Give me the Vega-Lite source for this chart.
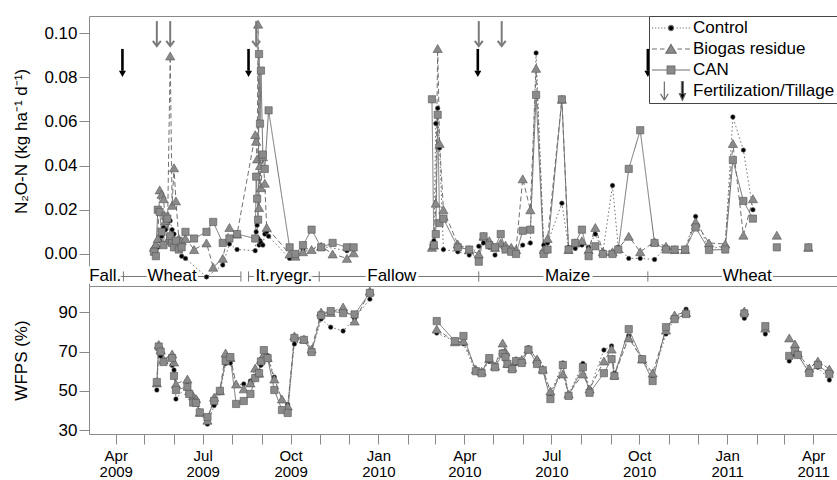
{
"$schema": "https://vega.github.io/schema/vega-lite/v6.json",
"background": "white",
"padding": {"left": 11, "top": 15, "right": 0, "bottom": 0},
"bounds": "flush",
"spacing": 0,
"config": {
  "font": "Liberation Sans",
  "view": {"stroke": "#8a8a8a", "strokeWidth": 1},
  "axis": {"grid": false, "domain": false, "tickColor": "#8a8a8a", "tickSize": 10, "tickWidth": 1, "labelFontSize": 17, "labelColor": "#000", "titleFontSize": 17, "titleFontWeight": "normal", "titleColor": "#000", "labelFont": "Liberation Sans", "titleFont": "Liberation Sans"}
},
"resolve": {"scale": {"color": "independent", "shape": "independent", "size": "independent", "strokeDash": "independent"}},
"datasets": {
  "crops": [
    {"crop": "Fall.", "start": "2009-03-04", "end": "2009-04-09", "mid": "2009-03-21"},
    {"crop": "Wheat", "start": "2009-04-09", "end": "2009-08-10", "mid": "2009-05-30"},
    {"crop": "It.ryegr.", "start": "2009-08-18", "end": "2009-10-31", "mid": "2009-09-24"},
    {"crop": "Fallow", "start": "2009-10-31", "end": "2010-04-16", "mid": "2010-01-15"},
    {"crop": "Maize", "start": "2010-04-16", "end": "2010-10-10", "mid": "2010-07-18"},
    {"crop": "Wheat", "start": "2010-10-10", "end": "2011-04-27", "mid": "2011-01-22"}
  ],
  "cuts": [
    {"date": "2009-04-09"}, {"date": "2009-08-10"}, {"date": "2009-08-18"}, {"date": "2009-10-31"}, {"date": "2010-04-16"}, {"date": "2010-10-10"}
  ],
  "arrows": [
    {"date": "2009-05-14", "kind": "fert"}, {"date": "2009-05-28", "kind": "fert"}, {"date": "2009-08-26", "kind": "fert"}, {"date": "2010-04-16", "kind": "fert"}, {"date": "2010-05-10", "kind": "fert"},
    {"date": "2009-04-08", "kind": "till"}, {"date": "2009-08-18", "kind": "till"}, {"date": "2010-04-15", "kind": "till"}, {"date": "2010-10-10", "kind": "till"}
  ],
  "n2o": [
    {"date":"2009-05-11","series":"Control","value":0.001,"period":1},
    {"date":"2009-05-13","series":"Control","value":0.000,"period":1},
    {"date":"2009-05-15","series":"Control","value":0.003,"period":1},
    {"date":"2009-05-17","series":"Control","value":0.006,"period":1},
    {"date":"2009-05-19","series":"Control","value":0.008,"period":1},
    {"date":"2009-05-21","series":"Control","value":0.012,"period":1},
    {"date":"2009-05-23","series":"Control","value":0.011,"period":1},
    {"date":"2009-05-25","series":"Control","value":0.014,"period":1},
    {"date":"2009-05-28","series":"Control","value":0.015,"period":1},
    {"date":"2009-05-30","series":"Control","value":0.011,"period":1},
    {"date":"2009-06-01","series":"Control","value":0.009,"period":1},
    {"date":"2009-06-03","series":"Control","value":0.005,"period":1},
    {"date":"2009-06-06","series":"Control","value":0.002,"period":1},
    {"date":"2009-06-09","series":"Control","value":-0.001,"period":1},
    {"date":"2009-06-13","series":"Control","value":-0.002,"period":1},
    {"date":"2009-07-05","series":"Control","value":-0.0104,"period":1},
    {"date":"2009-07-22","series":"Control","value":-0.005,"period":1},
    {"date":"2009-07-29","series":"Control","value":0.0045,"period":1},
    {"date":"2009-08-06","series":"Control","value":0.002,"period":1},
    {"date":"2009-08-25","series":"Control","value":0.0015,"period":1},
    {"date":"2009-08-26","series":"Control","value":0.010,"period":1},
    {"date":"2009-08-27","series":"Control","value":0.013,"period":1},
    {"date":"2009-08-28","series":"Control","value":0.007,"period":1},
    {"date":"2009-08-29","series":"Control","value":0.004,"period":1},
    {"date":"2009-08-30","series":"Control","value":0.006,"period":1},
    {"date":"2009-08-31","series":"Control","value":0.005,"period":1},
    {"date":"2009-09-02","series":"Control","value":0.004,"period":1},
    {"date":"2009-09-04","series":"Control","value":0.009,"period":1},
    {"date":"2009-09-06","series":"Control","value":0.010,"period":1},
    {"date":"2009-09-08","series":"Control","value":0.008,"period":1},
    {"date":"2009-09-30","series":"Control","value":-0.002,"period":1},
    {"date":"2009-10-14","series":"Control","value":0.002,"period":1},
    {"date":"2009-11-02","series":"Control","value":0.0035,"period":1},
    {"date":"2009-11-29","series":"Control","value":0.0015,"period":1},
    {"date":"2010-02-26","series":"Control","value":0.004,"period":2},
    {"date":"2010-02-28","series":"Control","value":0.006,"period":2},
    {"date":"2010-03-02","series":"Control","value":0.059,"period":2},
    {"date":"2010-03-04","series":"Control","value":0.066,"period":2},
    {"date":"2010-03-06","series":"Control","value":0.048,"period":2},
    {"date":"2010-03-10","series":"Control","value":0.002,"period":2},
    {"date":"2010-03-25","series":"Control","value":0.001,"period":2},
    {"date":"2010-04-06","series":"Control","value":-0.0005,"period":2},
    {"date":"2010-04-16","series":"Control","value":0.0035,"period":2},
    {"date":"2010-04-21","series":"Control","value":0.005,"period":2},
    {"date":"2010-04-27","series":"Control","value":0.003,"period":2},
    {"date":"2010-05-03","series":"Control","value":-0.0005,"period":2},
    {"date":"2010-05-09","series":"Control","value":0.004,"period":2},
    {"date":"2010-05-14","series":"Control","value":0.002,"period":2},
    {"date":"2010-05-20","series":"Control","value":0.001,"period":2},
    {"date":"2010-05-25","series":"Control","value":0.001,"period":2},
    {"date":"2010-06-01","series":"Control","value":0.004,"period":2},
    {"date":"2010-06-09","series":"Control","value":0.005,"period":2},
    {"date":"2010-06-15","series":"Control","value":0.091,"period":2},
    {"date":"2010-06-23","series":"Control","value":0.004,"period":2},
    {"date":"2010-06-27","series":"Control","value":0.005,"period":2},
    {"date":"2010-07-12","series":"Control","value":0.023,"period":2},
    {"date":"2010-07-19","series":"Control","value":0.003,"period":2},
    {"date":"2010-07-26","series":"Control","value":0.0025,"period":2},
    {"date":"2010-08-02","series":"Control","value":0.004,"period":2},
    {"date":"2010-08-09","series":"Control","value":0.003,"period":2},
    {"date":"2010-08-16","series":"Control","value":0.009,"period":2},
    {"date":"2010-08-24","series":"Control","value":0.001,"period":2},
    {"date":"2010-09-03","series":"Control","value":0.031,"period":2},
    {"date":"2010-09-09","series":"Control","value":0.003,"period":2},
    {"date":"2010-09-20","series":"Control","value":-0.002,"period":2},
    {"date":"2010-10-02","series":"Control","value":-0.002,"period":2},
    {"date":"2010-10-17","series":"Control","value":-0.0025,"period":2},
    {"date":"2010-10-29","series":"Control","value":0.003,"period":2},
    {"date":"2010-11-07","series":"Control","value":0.002,"period":2},
    {"date":"2010-11-18","series":"Control","value":0.002,"period":2},
    {"date":"2010-11-29","series":"Control","value":0.017,"period":2},
    {"date":"2010-12-13","series":"Control","value":0.002,"period":2},
    {"date":"2010-12-30","series":"Control","value":0.004,"period":2},
    {"date":"2011-01-07","series":"Control","value":0.062,"period":2},
    {"date":"2011-01-18","series":"Control","value":0.047,"period":2},
    {"date":"2011-01-28","series":"Control","value":0.020,"period":2},
    {"date":"2009-05-11","series":"Biogas residue","value":0.003,"period":1},
    {"date":"2009-05-13","series":"Biogas residue","value":0.0045,"period":1},
    {"date":"2009-05-15","series":"Biogas residue","value":0.007,"period":1},
    {"date":"2009-05-17","series":"Biogas residue","value":0.029,"period":1},
    {"date":"2009-05-19","series":"Biogas residue","value":0.027,"period":1},
    {"date":"2009-05-21","series":"Biogas residue","value":0.025,"period":1},
    {"date":"2009-05-23","series":"Biogas residue","value":0.015,"period":1},
    {"date":"2009-05-25","series":"Biogas residue","value":0.006,"period":1},
    {"date":"2009-05-28","series":"Biogas residue","value":0.0896,"period":1},
    {"date":"2009-05-30","series":"Biogas residue","value":0.022,"period":1},
    {"date":"2009-06-01","series":"Biogas residue","value":0.039,"period":1},
    {"date":"2009-06-03","series":"Biogas residue","value":0.024,"period":1},
    {"date":"2009-06-06","series":"Biogas residue","value":0.007,"period":1},
    {"date":"2009-06-09","series":"Biogas residue","value":0.006,"period":1},
    {"date":"2009-06-13","series":"Biogas residue","value":0.007,"period":1},
    {"date":"2009-06-22","series":"Biogas residue","value":0.002,"period":1},
    {"date":"2009-07-05","series":"Biogas residue","value":0.005,"period":1},
    {"date":"2009-07-12","series":"Biogas residue","value":-0.006,"period":1},
    {"date":"2009-07-22","series":"Biogas residue","value":-0.002,"period":1},
    {"date":"2009-07-29","series":"Biogas residue","value":0.012,"period":1},
    {"date":"2009-08-06","series":"Biogas residue","value":0.009,"period":1},
    {"date":"2009-08-25","series":"Biogas residue","value":0.054,"period":1},
    {"date":"2009-08-26","series":"Biogas residue","value":0.051,"period":1},
    {"date":"2009-08-27","series":"Biogas residue","value":0.043,"period":1},
    {"date":"2009-08-28","series":"Biogas residue","value":0.104,"period":1},
    {"date":"2009-08-29","series":"Biogas residue","value":0.021,"period":1},
    {"date":"2009-08-30","series":"Biogas residue","value":0.040,"period":1},
    {"date":"2009-08-31","series":"Biogas residue","value":0.030,"period":1},
    {"date":"2009-09-02","series":"Biogas residue","value":0.044,"period":1},
    {"date":"2009-09-04","series":"Biogas residue","value":0.032,"period":1},
    {"date":"2009-09-06","series":"Biogas residue","value":0.012,"period":1},
    {"date":"2009-09-30","series":"Biogas residue","value":0.000,"period":1},
    {"date":"2009-10-06","series":"Biogas residue","value":-0.001,"period":1},
    {"date":"2009-10-14","series":"Biogas residue","value":0.001,"period":1},
    {"date":"2009-10-23","series":"Biogas residue","value":0.002,"period":1},
    {"date":"2009-11-02","series":"Biogas residue","value":0.0035,"period":1},
    {"date":"2009-11-14","series":"Biogas residue","value":0.000,"period":1},
    {"date":"2009-11-29","series":"Biogas residue","value":-0.002,"period":1},
    {"date":"2009-12-06","series":"Biogas residue","value":0.0005,"period":1},
    {"date":"2010-02-26","series":"Biogas residue","value":0.003,"period":2},
    {"date":"2010-02-28","series":"Biogas residue","value":0.004,"period":2},
    {"date":"2010-03-02","series":"Biogas residue","value":0.023,"period":2},
    {"date":"2010-03-04","series":"Biogas residue","value":0.093,"period":2},
    {"date":"2010-03-06","series":"Biogas residue","value":0.050,"period":2},
    {"date":"2010-03-10","series":"Biogas residue","value":0.020,"period":2},
    {"date":"2010-03-25","series":"Biogas residue","value":0.0045,"period":2},
    {"date":"2010-04-06","series":"Biogas residue","value":0.002,"period":2},
    {"date":"2010-04-16","series":"Biogas residue","value":0.000,"period":2},
    {"date":"2010-04-21","series":"Biogas residue","value":0.008,"period":2},
    {"date":"2010-04-27","series":"Biogas residue","value":0.006,"period":2},
    {"date":"2010-05-03","series":"Biogas residue","value":0.003,"period":2},
    {"date":"2010-05-09","series":"Biogas residue","value":0.005,"period":2},
    {"date":"2010-05-14","series":"Biogas residue","value":0.004,"period":2},
    {"date":"2010-05-20","series":"Biogas residue","value":0.003,"period":2},
    {"date":"2010-05-25","series":"Biogas residue","value":0.002,"period":2},
    {"date":"2010-06-01","series":"Biogas residue","value":0.034,"period":2},
    {"date":"2010-06-09","series":"Biogas residue","value":0.020,"period":2},
    {"date":"2010-06-15","series":"Biogas residue","value":0.084,"period":2},
    {"date":"2010-06-23","series":"Biogas residue","value":0.002,"period":2},
    {"date":"2010-06-27","series":"Biogas residue","value":0.007,"period":2},
    {"date":"2010-07-12","series":"Biogas residue","value":0.070,"period":2},
    {"date":"2010-07-19","series":"Biogas residue","value":0.002,"period":2},
    {"date":"2010-07-26","series":"Biogas residue","value":0.005,"period":2},
    {"date":"2010-08-02","series":"Biogas residue","value":0.006,"period":2},
    {"date":"2010-08-09","series":"Biogas residue","value":0.002,"period":2},
    {"date":"2010-08-16","series":"Biogas residue","value":0.012,"period":2},
    {"date":"2010-08-24","series":"Biogas residue","value":0.001,"period":2},
    {"date":"2010-09-03","series":"Biogas residue","value":0.001,"period":2},
    {"date":"2010-09-09","series":"Biogas residue","value":0.0025,"period":2},
    {"date":"2010-09-20","series":"Biogas residue","value":0.008,"period":2},
    {"date":"2010-10-02","series":"Biogas residue","value":0.001,"period":2},
    {"date":"2010-10-17","series":"Biogas residue","value":0.0055,"period":2},
    {"date":"2010-10-29","series":"Biogas residue","value":0.0035,"period":2},
    {"date":"2010-11-07","series":"Biogas residue","value":0.002,"period":2},
    {"date":"2010-11-18","series":"Biogas residue","value":0.002,"period":2},
    {"date":"2010-11-29","series":"Biogas residue","value":0.0145,"period":2},
    {"date":"2010-12-13","series":"Biogas residue","value":0.005,"period":2},
    {"date":"2010-12-30","series":"Biogas residue","value":0.0045,"period":2},
    {"date":"2011-01-07","series":"Biogas residue","value":0.050,"period":2},
    {"date":"2011-01-18","series":"Biogas residue","value":0.0085,"period":2},
    {"date":"2011-01-28","series":"Biogas residue","value":0.025,"period":2},
    {"date":"2011-02-22","series":"Biogas residue","value":0.0085,"period":3},
    {"date":"2011-03-27","series":"Biogas residue","value":0.003,"period":4},
    {"date":"2009-05-11","series":"CAN","value":0.001,"period":1},
    {"date":"2009-05-13","series":"CAN","value":-0.001,"period":1},
    {"date":"2009-05-15","series":"CAN","value":0.020,"period":1},
    {"date":"2009-05-17","series":"CAN","value":0.019,"period":1},
    {"date":"2009-05-19","series":"CAN","value":0.010,"period":1},
    {"date":"2009-05-21","series":"CAN","value":0.004,"period":1},
    {"date":"2009-05-23","series":"CAN","value":0.017,"period":1},
    {"date":"2009-05-25","series":"CAN","value":0.016,"period":1},
    {"date":"2009-05-28","series":"CAN","value":0.008,"period":1},
    {"date":"2009-05-30","series":"CAN","value":0.005,"period":1},
    {"date":"2009-06-01","series":"CAN","value":0.003,"period":1},
    {"date":"2009-06-03","series":"CAN","value":0.006,"period":1},
    {"date":"2009-06-06","series":"CAN","value":0.002,"period":1},
    {"date":"2009-06-09","series":"CAN","value":0.003,"period":1},
    {"date":"2009-06-13","series":"CAN","value":0.010,"period":1},
    {"date":"2009-06-22","series":"CAN","value":0.007,"period":1},
    {"date":"2009-07-05","series":"CAN","value":0.010,"period":1},
    {"date":"2009-07-12","series":"CAN","value":0.0145,"period":1},
    {"date":"2009-07-22","series":"CAN","value":0.005,"period":1},
    {"date":"2009-07-29","series":"CAN","value":0.007,"period":1},
    {"date":"2009-08-06","series":"CAN","value":0.009,"period":1},
    {"date":"2009-08-25","series":"CAN","value":0.007,"period":1},
    {"date":"2009-08-26","series":"CAN","value":0.035,"period":1},
    {"date":"2009-08-27","series":"CAN","value":0.025,"period":1},
    {"date":"2009-08-28","series":"CAN","value":0.0155,"period":1},
    {"date":"2009-08-29","series":"CAN","value":0.0905,"period":1},
    {"date":"2009-08-30","series":"CAN","value":0.059,"period":1},
    {"date":"2009-08-31","series":"CAN","value":0.083,"period":1},
    {"date":"2009-09-02","series":"CAN","value":0.045,"period":1},
    {"date":"2009-09-04","series":"CAN","value":0.0385,"period":1},
    {"date":"2009-09-08","series":"CAN","value":0.065,"period":1},
    {"date":"2009-09-30","series":"CAN","value":0.003,"period":1},
    {"date":"2009-10-06","series":"CAN","value":0.000,"period":1},
    {"date":"2009-10-14","series":"CAN","value":0.004,"period":1},
    {"date":"2009-10-23","series":"CAN","value":0.011,"period":1},
    {"date":"2009-11-02","series":"CAN","value":0.003,"period":1},
    {"date":"2009-11-14","series":"CAN","value":0.005,"period":1},
    {"date":"2009-11-29","series":"CAN","value":0.003,"period":1},
    {"date":"2009-12-06","series":"CAN","value":0.003,"period":1},
    {"date":"2010-02-26","series":"CAN","value":0.070,"period":2},
    {"date":"2010-02-28","series":"CAN","value":0.004,"period":2},
    {"date":"2010-03-02","series":"CAN","value":0.009,"period":2},
    {"date":"2010-03-04","series":"CAN","value":0.063,"period":2},
    {"date":"2010-03-06","series":"CAN","value":0.014,"period":2},
    {"date":"2010-03-10","series":"CAN","value":0.016,"period":2},
    {"date":"2010-03-25","series":"CAN","value":0.003,"period":2},
    {"date":"2010-04-06","series":"CAN","value":0.002,"period":2},
    {"date":"2010-04-16","series":"CAN","value":-0.0035,"period":2},
    {"date":"2010-04-21","series":"CAN","value":0.008,"period":2},
    {"date":"2010-04-27","series":"CAN","value":0.004,"period":2},
    {"date":"2010-05-03","series":"CAN","value":0.003,"period":2},
    {"date":"2010-05-09","series":"CAN","value":0.009,"period":2},
    {"date":"2010-05-14","series":"CAN","value":0.002,"period":2},
    {"date":"2010-05-20","series":"CAN","value":0.001,"period":2},
    {"date":"2010-05-25","series":"CAN","value":0.000,"period":2},
    {"date":"2010-06-01","series":"CAN","value":0.0105,"period":2},
    {"date":"2010-06-09","series":"CAN","value":0.011,"period":2},
    {"date":"2010-06-15","series":"CAN","value":0.072,"period":2},
    {"date":"2010-06-23","series":"CAN","value":0.000,"period":2},
    {"date":"2010-06-27","series":"CAN","value":0.002,"period":2},
    {"date":"2010-07-12","series":"CAN","value":0.070,"period":2},
    {"date":"2010-07-19","series":"CAN","value":0.002,"period":2},
    {"date":"2010-07-26","series":"CAN","value":0.005,"period":2},
    {"date":"2010-08-02","series":"CAN","value":0.011,"period":2},
    {"date":"2010-08-09","series":"CAN","value":-0.001,"period":2},
    {"date":"2010-08-16","series":"CAN","value":0.0035,"period":2},
    {"date":"2010-08-24","series":"CAN","value":0.000,"period":2},
    {"date":"2010-09-03","series":"CAN","value":0.000,"period":2},
    {"date":"2010-09-09","series":"CAN","value":0.002,"period":2},
    {"date":"2010-09-20","series":"CAN","value":0.0385,"period":2},
    {"date":"2010-10-02","series":"CAN","value":0.056,"period":2},
    {"date":"2010-10-17","series":"CAN","value":0.005,"period":2},
    {"date":"2010-10-29","series":"CAN","value":0.002,"period":2},
    {"date":"2010-11-07","series":"CAN","value":0.002,"period":2},
    {"date":"2010-11-18","series":"CAN","value":0.002,"period":2},
    {"date":"2010-11-29","series":"CAN","value":0.012,"period":2},
    {"date":"2010-12-13","series":"CAN","value":0.0018,"period":2},
    {"date":"2010-12-30","series":"CAN","value":0.002,"period":2},
    {"date":"2011-01-07","series":"CAN","value":0.0425,"period":2},
    {"date":"2011-01-18","series":"CAN","value":0.024,"period":2},
    {"date":"2011-01-28","series":"CAN","value":0.016,"period":2},
    {"date":"2011-02-22","series":"CAN","value":0.003,"period":3},
    {"date":"2011-03-27","series":"CAN","value":0.003,"period":4}
  ],
  "wfps": [
    {"date":"2009-05-14","series":"Control","value":50.4,"period":1},
    {"date":"2009-05-16","series":"Control","value":71,"period":1},
    {"date":"2009-05-18","series":"Control","value":67.8,"period":1},
    {"date":"2009-05-21","series":"Control","value":65,"period":1},
    {"date":"2009-05-30","series":"Control","value":63,"period":1},
    {"date":"2009-06-01","series":"Control","value":60.6,"period":1},
    {"date":"2009-06-03","series":"Control","value":45.8,"period":1},
    {"date":"2009-06-15","series":"Control","value":53,"period":1},
    {"date":"2009-06-17","series":"Control","value":48,"period":1},
    {"date":"2009-06-21","series":"Control","value":47,"period":1},
    {"date":"2009-06-24","series":"Control","value":46,"period":1},
    {"date":"2009-06-28","series":"Control","value":39,"period":1},
    {"date":"2009-07-06","series":"Control","value":33,"period":1},
    {"date":"2009-07-13","series":"Control","value":42.5,"period":1},
    {"date":"2009-07-19","series":"Control","value":49,"period":1},
    {"date":"2009-07-25","series":"Control","value":64,"period":1},
    {"date":"2009-07-30","series":"Control","value":64.2,"period":1},
    {"date":"2009-08-05","series":"Control","value":53,"period":1},
    {"date":"2009-08-13","series":"Control","value":53.5,"period":1},
    {"date":"2009-08-20","series":"Control","value":55,"period":1},
    {"date":"2009-08-25","series":"Control","value":57.5,"period":1},
    {"date":"2009-08-29","series":"Control","value":60,"period":1},
    {"date":"2009-08-31","series":"Control","value":63,"period":1},
    {"date":"2009-09-03","series":"Control","value":66,"period":1},
    {"date":"2009-09-07","series":"Control","value":68,"period":1},
    {"date":"2009-09-14","series":"Control","value":57,"period":1},
    {"date":"2009-09-22","series":"Control","value":45,"period":1},
    {"date":"2009-09-28","series":"Control","value":43,"period":1},
    {"date":"2009-10-05","series":"Control","value":73.9,"period":1},
    {"date":"2009-10-15","series":"Control","value":76,"period":1},
    {"date":"2009-10-23","series":"Control","value":70,"period":1},
    {"date":"2009-11-02","series":"Control","value":86.6,"period":1},
    {"date":"2009-11-12","series":"Control","value":82.5,"period":1},
    {"date":"2009-11-25","series":"Control","value":80.5,"period":1},
    {"date":"2009-12-07","series":"Control","value":87,"period":1},
    {"date":"2009-12-23","series":"Control","value":96.8,"period":1},
    {"date":"2010-03-03","series":"Control","value":79.5,"period":2},
    {"date":"2010-03-22","series":"Control","value":75.4,"period":2},
    {"date":"2010-03-31","series":"Control","value":74,"period":2},
    {"date":"2010-04-13","series":"Control","value":59.6,"period":2},
    {"date":"2010-04-19","series":"Control","value":60,"period":2},
    {"date":"2010-04-27","series":"Control","value":65,"period":2},
    {"date":"2010-05-03","series":"Control","value":63,"period":2},
    {"date":"2010-05-11","series":"Control","value":70,"period":2},
    {"date":"2010-05-14","series":"Control","value":66,"period":2},
    {"date":"2010-05-16","series":"Control","value":63,"period":2},
    {"date":"2010-05-21","series":"Control","value":62,"period":2},
    {"date":"2010-05-25","series":"Control","value":64,"period":2},
    {"date":"2010-05-31","series":"Control","value":64,"period":2},
    {"date":"2010-06-07","series":"Control","value":72,"period":2},
    {"date":"2010-06-16","series":"Control","value":66,"period":2},
    {"date":"2010-06-22","series":"Control","value":61,"period":2},
    {"date":"2010-06-30","series":"Control","value":48,"period":2},
    {"date":"2010-07-13","series":"Control","value":64.2,"period":2},
    {"date":"2010-07-19","series":"Control","value":48,"period":2},
    {"date":"2010-08-03","series":"Control","value":64,"period":2},
    {"date":"2010-08-10","series":"Control","value":51,"period":2},
    {"date":"2010-08-25","series":"Control","value":70.8,"period":2},
    {"date":"2010-09-02","series":"Control","value":72.9,"period":2},
    {"date":"2010-09-05","series":"Control","value":59,"period":2},
    {"date":"2010-09-20","series":"Control","value":78,"period":2},
    {"date":"2010-10-04","series":"Control","value":66,"period":2},
    {"date":"2010-10-15","series":"Control","value":57,"period":2},
    {"date":"2010-10-29","series":"Control","value":79,"period":2},
    {"date":"2010-11-07","series":"Control","value":87,"period":2},
    {"date":"2010-11-19","series":"Control","value":91.7,"period":2},
    {"date":"2011-01-19","series":"Control","value":87,"period":3},
    {"date":"2011-02-10","series":"Control","value":79,"period":4},
    {"date":"2011-03-07","series":"Control","value":65.2,"period":5},
    {"date":"2011-03-13","series":"Control","value":68.3,"period":5},
    {"date":"2011-03-16","series":"Control","value":68,"period":5},
    {"date":"2011-03-28","series":"Control","value":60,"period":5},
    {"date":"2011-04-06","series":"Control","value":62,"period":5},
    {"date":"2011-04-18","series":"Control","value":55.5,"period":5},
    {"date":"2009-05-14","series":"Biogas residue","value":54,"period":1},
    {"date":"2009-05-16","series":"Biogas residue","value":73.7,"period":1},
    {"date":"2009-05-18","series":"Biogas residue","value":71,"period":1},
    {"date":"2009-05-21","series":"Biogas residue","value":66,"period":1},
    {"date":"2009-05-30","series":"Biogas residue","value":68.8,"period":1},
    {"date":"2009-06-01","series":"Biogas residue","value":64.7,"period":1},
    {"date":"2009-06-03","series":"Biogas residue","value":53.5,"period":1},
    {"date":"2009-06-15","series":"Biogas residue","value":56,"period":1},
    {"date":"2009-06-17","series":"Biogas residue","value":50,"period":1},
    {"date":"2009-06-21","series":"Biogas residue","value":47.5,"period":1},
    {"date":"2009-06-24","series":"Biogas residue","value":46,"period":1},
    {"date":"2009-06-28","series":"Biogas residue","value":39,"period":1},
    {"date":"2009-07-06","series":"Biogas residue","value":35,"period":1},
    {"date":"2009-07-13","series":"Biogas residue","value":46.7,"period":1},
    {"date":"2009-07-19","series":"Biogas residue","value":50,"period":1},
    {"date":"2009-07-25","series":"Biogas residue","value":69.3,"period":1},
    {"date":"2009-07-30","series":"Biogas residue","value":67,"period":1},
    {"date":"2009-08-05","series":"Biogas residue","value":53.5,"period":1},
    {"date":"2009-08-13","series":"Biogas residue","value":51,"period":1},
    {"date":"2009-08-20","series":"Biogas residue","value":54,"period":1},
    {"date":"2009-08-25","series":"Biogas residue","value":61.6,"period":1},
    {"date":"2009-08-29","series":"Biogas residue","value":59,"period":1},
    {"date":"2009-08-31","series":"Biogas residue","value":66,"period":1},
    {"date":"2009-09-03","series":"Biogas residue","value":68.5,"period":1},
    {"date":"2009-09-07","series":"Biogas residue","value":67,"period":1},
    {"date":"2009-09-14","series":"Biogas residue","value":56,"period":1},
    {"date":"2009-09-22","series":"Biogas residue","value":45.8,"period":1},
    {"date":"2009-09-28","series":"Biogas residue","value":42.2,"period":1},
    {"date":"2009-10-05","series":"Biogas residue","value":78,"period":1},
    {"date":"2009-10-15","series":"Biogas residue","value":76.4,"period":1},
    {"date":"2009-10-23","series":"Biogas residue","value":71.3,"period":1},
    {"date":"2009-11-02","series":"Biogas residue","value":90.2,"period":1},
    {"date":"2009-11-12","series":"Biogas residue","value":90,"period":1},
    {"date":"2009-11-25","series":"Biogas residue","value":92.8,"period":1},
    {"date":"2009-12-07","series":"Biogas residue","value":85.6,"period":1},
    {"date":"2009-12-23","series":"Biogas residue","value":100.9,"period":1},
    {"date":"2010-03-03","series":"Biogas residue","value":81.5,"period":2},
    {"date":"2010-03-22","series":"Biogas residue","value":75,"period":2},
    {"date":"2010-03-31","series":"Biogas residue","value":75.4,"period":2},
    {"date":"2010-04-13","series":"Biogas residue","value":61,"period":2},
    {"date":"2010-04-19","series":"Biogas residue","value":60,"period":2},
    {"date":"2010-04-27","series":"Biogas residue","value":66.5,"period":2},
    {"date":"2010-05-03","series":"Biogas residue","value":62.7,"period":2},
    {"date":"2010-05-11","series":"Biogas residue","value":74.4,"period":2},
    {"date":"2010-05-14","series":"Biogas residue","value":70,"period":2},
    {"date":"2010-05-16","series":"Biogas residue","value":64,"period":2},
    {"date":"2010-05-21","series":"Biogas residue","value":62,"period":2},
    {"date":"2010-05-25","series":"Biogas residue","value":65.5,"period":2},
    {"date":"2010-05-31","series":"Biogas residue","value":66,"period":2},
    {"date":"2010-06-07","series":"Biogas residue","value":71.3,"period":2},
    {"date":"2010-06-16","series":"Biogas residue","value":66.2,"period":2},
    {"date":"2010-06-22","series":"Biogas residue","value":61.1,"period":2},
    {"date":"2010-06-30","series":"Biogas residue","value":49.9,"period":2},
    {"date":"2010-07-13","series":"Biogas residue","value":58.6,"period":2},
    {"date":"2010-07-19","series":"Biogas residue","value":48.4,"period":2},
    {"date":"2010-08-03","series":"Biogas residue","value":58.6,"period":2},
    {"date":"2010-08-10","series":"Biogas residue","value":50.9,"period":2},
    {"date":"2010-08-25","series":"Biogas residue","value":65.2,"period":2},
    {"date":"2010-09-02","series":"Biogas residue","value":71.3,"period":2},
    {"date":"2010-09-05","series":"Biogas residue","value":58,"period":2},
    {"date":"2010-09-20","series":"Biogas residue","value":77,"period":2},
    {"date":"2010-10-04","series":"Biogas residue","value":66.2,"period":2},
    {"date":"2010-10-15","series":"Biogas residue","value":59.1,"period":2},
    {"date":"2010-10-29","series":"Biogas residue","value":81,"period":2},
    {"date":"2010-11-07","series":"Biogas residue","value":88.7,"period":2},
    {"date":"2010-11-19","series":"Biogas residue","value":90,"period":2},
    {"date":"2011-01-19","series":"Biogas residue","value":90.7,"period":3},
    {"date":"2011-02-10","series":"Biogas residue","value":82,"period":4},
    {"date":"2011-03-07","series":"Biogas residue","value":77,"period":5},
    {"date":"2011-03-13","series":"Biogas residue","value":73.9,"period":5},
    {"date":"2011-03-16","series":"Biogas residue","value":69.3,"period":5},
    {"date":"2011-03-28","series":"Biogas residue","value":61.6,"period":5},
    {"date":"2011-04-06","series":"Biogas residue","value":65.2,"period":5},
    {"date":"2011-04-18","series":"Biogas residue","value":61.1,"period":5},
    {"date":"2009-05-14","series":"CAN","value":54.5,"period":1},
    {"date":"2009-05-16","series":"CAN","value":72.6,"period":1},
    {"date":"2009-05-18","series":"CAN","value":70,"period":1},
    {"date":"2009-05-21","series":"CAN","value":64.7,"period":1},
    {"date":"2009-05-30","series":"CAN","value":66.7,"period":1},
    {"date":"2009-06-01","series":"CAN","value":57.6,"period":1},
    {"date":"2009-06-03","series":"CAN","value":50.4,"period":1},
    {"date":"2009-06-15","series":"CAN","value":52,"period":1},
    {"date":"2009-06-17","series":"CAN","value":48.4,"period":1},
    {"date":"2009-06-21","series":"CAN","value":44,"period":1},
    {"date":"2009-06-24","series":"CAN","value":43.8,"period":1},
    {"date":"2009-06-28","series":"CAN","value":39,"period":1},
    {"date":"2009-07-06","series":"CAN","value":36.6,"period":1},
    {"date":"2009-07-13","series":"CAN","value":44.8,"period":1},
    {"date":"2009-07-19","series":"CAN","value":50,"period":1},
    {"date":"2009-07-25","series":"CAN","value":65.2,"period":1},
    {"date":"2009-07-30","series":"CAN","value":67.2,"period":1},
    {"date":"2009-08-05","series":"CAN","value":43.3,"period":1},
    {"date":"2009-08-13","series":"CAN","value":44.8,"period":1},
    {"date":"2009-08-20","series":"CAN","value":48.4,"period":1},
    {"date":"2009-08-25","series":"CAN","value":56.5,"period":1},
    {"date":"2009-08-29","series":"CAN","value":59,"period":1},
    {"date":"2009-08-31","series":"CAN","value":65,"period":1},
    {"date":"2009-09-03","series":"CAN","value":70.8,"period":1},
    {"date":"2009-09-07","series":"CAN","value":66.7,"period":1},
    {"date":"2009-09-14","series":"CAN","value":50.4,"period":1},
    {"date":"2009-09-22","series":"CAN","value":40.2,"period":1},
    {"date":"2009-09-28","series":"CAN","value":38.7,"period":1},
    {"date":"2009-10-05","series":"CAN","value":77,"period":1},
    {"date":"2009-10-15","series":"CAN","value":76,"period":1},
    {"date":"2009-10-23","series":"CAN","value":69.8,"period":1},
    {"date":"2009-11-02","series":"CAN","value":88.5,"period":1},
    {"date":"2009-11-12","series":"CAN","value":90.7,"period":1},
    {"date":"2009-11-25","series":"CAN","value":89.7,"period":1},
    {"date":"2009-12-07","series":"CAN","value":89,"period":1},
    {"date":"2009-12-23","series":"CAN","value":100,"period":1},
    {"date":"2010-03-03","series":"CAN","value":85.6,"period":2},
    {"date":"2010-03-22","series":"CAN","value":75.4,"period":2},
    {"date":"2010-03-31","series":"CAN","value":78,"period":2},
    {"date":"2010-04-13","series":"CAN","value":60,"period":2},
    {"date":"2010-04-19","series":"CAN","value":59,"period":2},
    {"date":"2010-04-27","series":"CAN","value":66.7,"period":2},
    {"date":"2010-05-03","series":"CAN","value":62,"period":2},
    {"date":"2010-05-11","series":"CAN","value":69,"period":2},
    {"date":"2010-05-14","series":"CAN","value":67.2,"period":2},
    {"date":"2010-05-16","series":"CAN","value":63.7,"period":2},
    {"date":"2010-05-21","series":"CAN","value":61,"period":2},
    {"date":"2010-05-25","series":"CAN","value":65.2,"period":2},
    {"date":"2010-05-31","series":"CAN","value":64.2,"period":2},
    {"date":"2010-06-07","series":"CAN","value":71,"period":2},
    {"date":"2010-06-16","series":"CAN","value":63.7,"period":2},
    {"date":"2010-06-22","series":"CAN","value":60.5,"period":2},
    {"date":"2010-06-30","series":"CAN","value":45.8,"period":2},
    {"date":"2010-07-13","series":"CAN","value":63.2,"period":2},
    {"date":"2010-07-19","series":"CAN","value":47.4,"period":2},
    {"date":"2010-08-03","series":"CAN","value":62.1,"period":2},
    {"date":"2010-08-10","series":"CAN","value":49,"period":2},
    {"date":"2010-08-25","series":"CAN","value":59,"period":2},
    {"date":"2010-09-02","series":"CAN","value":66.2,"period":2},
    {"date":"2010-09-05","series":"CAN","value":57.6,"period":2},
    {"date":"2010-09-20","series":"CAN","value":81.5,"period":2},
    {"date":"2010-10-04","series":"CAN","value":66.2,"period":2},
    {"date":"2010-10-15","series":"CAN","value":55,"period":2},
    {"date":"2010-10-29","series":"CAN","value":82.5,"period":2},
    {"date":"2010-11-07","series":"CAN","value":86.6,"period":2},
    {"date":"2010-11-19","series":"CAN","value":89.2,"period":2},
    {"date":"2011-01-19","series":"CAN","value":89.5,"period":3},
    {"date":"2011-02-10","series":"CAN","value":83,"period":4},
    {"date":"2011-03-07","series":"CAN","value":67.8,"period":5},
    {"date":"2011-03-13","series":"CAN","value":70.3,"period":5},
    {"date":"2011-03-16","series":"CAN","value":68.3,"period":5},
    {"date":"2011-03-28","series":"CAN","value":59.1,"period":5},
    {"date":"2011-04-06","series":"CAN","value":63.2,"period":5},
    {"date":"2011-04-18","series":"CAN","value":58.6,"period":5}
  ]
},
"vconcat": [
  {
    "width": 748, "height": 270,
    "layer": [
      {
        "data": {"name": "crops"},
        "mark": {"type": "rule", "color": "#777777", "strokeWidth": 1},
        "encoding": {
          "x": {"field": "start", "type": "temporal", "scale": {"domain": [{"year": 2009, "month": 3, "date": 4}, {"year": 2011, "month": 4, "date": 26}]}, "axis": null},
          "x2": {"field": "end"},
          "y": {"datum": -0.0102, "type": "quantitative", "scale": {"domain": [-0.0145, 0.1077], "nice": false, "zero": false}}
        }
      },
      {
        "data": {"name": "cuts"},
        "mark": {"type": "rule", "color": "#777777", "strokeWidth": 1},
        "encoding": {
          "x": {"field": "date", "type": "temporal", "scale": {"domain": [{"year": 2009, "month": 3, "date": 4}, {"year": 2011, "month": 4, "date": 26}]}, "axis": null},
          "y": {"datum": -0.0079, "type": "quantitative", "scale": {"domain": [-0.0145, 0.1077], "nice": false, "zero": false}},
          "y2": {"datum": -0.0125}
        }
      },
      {
        "data": {"name": "crops"},
        "mark": {"type": "text", "fontSize": 17, "font": "Liberation Sans", "stroke": "white", "strokeWidth": 6, "strokeJoin": "round", "fill": "white", "baseline": "middle", "align": "center"},
        "encoding": {
          "x": {"field": "mid", "type": "temporal", "scale": {"domain": [{"year": 2009, "month": 3, "date": 4}, {"year": 2011, "month": 4, "date": 26}]}, "axis": null},
          "y": {"datum": -0.0102, "type": "quantitative", "scale": {"domain": [-0.0145, 0.1077], "nice": false, "zero": false}},
          "text": {"field": "crop"}
        }
      },
      {
        "data": {"name": "crops"},
        "mark": {"type": "text", "fontSize": 17, "font": "Liberation Sans", "fill": "black", "baseline": "middle", "align": "center"},
        "encoding": {
          "x": {"field": "mid", "type": "temporal", "scale": {"domain": [{"year": 2009, "month": 3, "date": 4}, {"year": 2011, "month": 4, "date": 26}]}, "axis": null},
          "y": {"datum": -0.0102, "type": "quantitative", "scale": {"domain": [-0.0145, 0.1077], "nice": false, "zero": false}},
          "text": {"field": "crop"}
        }
      },
      {
        "data": {"name": "n2o"},
        "mark": {"type": "line", "color": "#707070", "strokeWidth": 1},
        "encoding": {
          "x": {"field": "date", "type": "temporal", "scale": {"domain": [{"year": 2009, "month": 3, "date": 4}, {"year": 2011, "month": 4, "date": 26}]}, "axis": null},
          "y": {"field": "value", "type": "quantitative", "scale": {"domain": [-0.0145, 0.1077], "nice": false, "zero": false},
                "axis": {"values": [0, 0.02, 0.04, 0.06, 0.08, 0.1], "format": ".2f", "title": "N₂O-N (kg ha⁻¹ d⁻¹)", "titleX": -68, "titleY": 125, "titleBaseline": "middle", "labelPadding": 2}},
          "detail": {"field": "period", "type": "nominal"},
          "strokeDash": {"field": "series", "type": "nominal", "scale": {"domain": ["Control", "Biogas residue", "CAN"], "range": [[1.5, 2.5], [5, 3], [1, 0]]}, "legend": null}
        }
      },
      {
        "data": {"name": "n2o"},
        "mark": {"type": "point", "filled": true, "opacity": 1, "stroke": "#555555", "strokeWidth": 0.6},
        "encoding": {
          "x": {"field": "date", "type": "temporal", "scale": {"domain": [{"year": 2009, "month": 3, "date": 4}, {"year": 2011, "month": 4, "date": 26}]}, "axis": null},
          "y": {"field": "value", "type": "quantitative", "scale": {"domain": [-0.0145, 0.1077], "nice": false, "zero": false}},
          "size": {"field": "series", "type": "nominal", "scale": {"domain": ["Control", "CAN", "Biogas residue"], "range": [20, 85]}, "legend": null},
          "shape": {"field": "series", "type": "nominal", "scale": {"domain": ["Control", "Biogas residue", "CAN"], "range": ["circle", "triangle-up", "square"]}, "legend": null},
          "color": {"field": "series", "type": "nominal",
            "scale": {"domain": ["Control", "Biogas residue", "CAN", "Fertilization/Tillage"], "range": ["#000000", "#8a8a8a", "#8a8a8a", "#000000"]},
            "legend": {
              "title": null, "orient": "top-right", "offset": 0, "symbolSize": 1444, "labelFontSize": 17, "labelFont": "Liberation Sans", "labelColor": "#000000",
              "padding": 2, "rowPadding": 1, "clipHeight": 20, "labelOffset": 2, "strokeColor": "#444444", "fillColor": "#ffffff", "labelLimit": 0, "symbolStrokeWidth": 1.2,
              "encoding": {
                "symbols": {
                  "shape": {"value": {"expr": "datum.value === 'Control' ? 'M-1,0L-0.935,0M-0.84,0L-0.775,0M-0.68,0L-0.615,0M-0.52,0L-0.455,0M-0.36,0L-0.295,0M0.295,0L0.36,0M0.455,0L0.52,0M0.615,0L0.68,0M0.775,0L0.84,0M0.935,0L1,0M-0.14,0A0.14,0.14,0,1,1,0.14,0A0.14,0.14,0,1,1,-0.14,0Z' : datum.value === 'Biogas residue' ? 'M-1,0L-0.74,0M-0.58,0L-0.34,0M0.34,0L0.58,0M0.74,0L1,0M0,-0.24L0.27,0.22L-0.27,0.22Z' : datum.value === 'CAN' ? 'M-1,0L-0.2,0M0.2,0L1,0M-0.2,-0.2L0.2,-0.2L0.2,0.2L-0.2,0.2Z' : 'M-0.35,-0.5L-0.35,0.48M-0.55,0.15L-0.35,0.48M-0.15,0.15L-0.35,0.48M0.55,-0.5L0.65,-0.5L0.65,0.14L0.76,0.14L0.6,0.5L0.44,0.14L0.55,0.14Z'"}},
                  "stroke": {"value": "#6e6e6e"},
                  "strokeWidth": {"value": 1.2},
                  "size": {"value": 1444},
                  "opacity": {"value": 1}
                }
              }
            }
          }
        }
      },
      {
        "data": {"name": "arrows"},
        "transform": [{"filter": "datum.kind === 'fert'"}],
        "mark": {"type": "rule", "color": "#7a7a7a", "strokeWidth": 2},
        "encoding": {
          "x": {"field": "date", "type": "temporal", "scale": {"domain": [{"year": 2009, "month": 3, "date": 4}, {"year": 2011, "month": 4, "date": 26}]}, "axis": null},
          "y": {"datum": 0.1054, "type": "quantitative", "scale": {"domain": [-0.0145, 0.1077], "nice": false, "zero": false}},
          "y2": {"datum": 0.0943}
        }
      },
      {
        "data": {"name": "arrows"},
        "transform": [{"filter": "datum.kind === 'fert'"}],
        "mark": {"type": "point", "shape": "M-1,-1.3L0,0L1,-1.3", "size": 64, "filled": false, "color": "#7a7a7a", "strokeWidth": 2, "opacity": 1},
        "encoding": {
          "x": {"field": "date", "type": "temporal", "scale": {"domain": [{"year": 2009, "month": 3, "date": 4}, {"year": 2011, "month": 4, "date": 26}]}, "axis": null},
          "y": {"datum": 0.0941, "type": "quantitative", "scale": {"domain": [-0.0145, 0.1077], "nice": false, "zero": false}}
        }
      },
      {
        "data": {"name": "arrows"},
        "transform": [{"filter": "datum.kind === 'till'"}],
        "mark": {"type": "rule", "color": "#000000", "strokeWidth": 2.6},
        "encoding": {
          "x": {"field": "date", "type": "temporal", "scale": {"domain": [{"year": 2009, "month": 3, "date": 4}, {"year": 2011, "month": 4, "date": 26}]}, "axis": null},
          "y": {"datum": 0.0928, "type": "quantitative", "scale": {"domain": [-0.0145, 0.1077], "nice": false, "zero": false}},
          "y2": {"datum": 0.0829}
        }
      },
      {
        "data": {"name": "arrows"},
        "transform": [{"filter": "datum.kind === 'till'"}],
        "mark": {"type": "point", "shape": "M-1,-1.8L0,0L1,-1.8Z", "size": 49, "filled": true, "color": "#000000", "opacity": 1},
        "encoding": {
          "x": {"field": "date", "type": "temporal", "scale": {"domain": [{"year": 2009, "month": 3, "date": 4}, {"year": 2011, "month": 4, "date": 26}]}, "axis": null},
          "y": {"datum": 0.0801, "type": "quantitative", "scale": {"domain": [-0.0145, 0.1077], "nice": false, "zero": false}}
        }
      }
    ]
  },
  {
    "width": 748, "height": 148,
    "data": {"name": "wfps"},
    "layer": [
      {
        "mark": {"type": "line", "color": "#707070", "strokeWidth": 1},
        "encoding": {
          "x": {"field": "date", "type": "temporal", "scale": {"domain": [{"year": 2009, "month": 3, "date": 4}, {"year": 2011, "month": 4, "date": 26}]},
                "axis": {"tickCount": {"interval": "month", "step": 1}, "labelExpr": "month(datum.value) % 3 === 0 ? [timeFormat(datum.value, '%b'), timeFormat(datum.value, '%Y')] : ''", "labelOverlap": false, "labelFlush": false, "labelBound": false, "labelPadding": 4, "labelFontSize": 15, "labelLineHeight": 16, "title": null, "labelAlign": "center"}},
          "y": {"field": "value", "type": "quantitative", "scale": {"domain": [27.96, 103.5], "nice": false, "zero": false},
                "axis": {"values": [30, 40, 50, 60, 70, 80, 90, 100], "labelExpr": "datum.value % 20 === 10 ? datum.label : ''", "title": "WFPS (%)", "titleX": -68, "titleBaseline": "middle", "labelPadding": 2}},
          "detail": {"field": "period", "type": "nominal"},
          "strokeDash": {"field": "series", "type": "nominal", "scale": {"domain": ["Control", "Biogas residue", "CAN"], "range": [[1.5, 2.5], [5, 3], [1, 0]]}, "legend": null}
        }
      },
      {
        "mark": {"type": "point", "filled": true, "opacity": 1, "stroke": "#555555", "strokeWidth": 0.6},
        "encoding": {
          "x": {"field": "date", "type": "temporal", "scale": {"domain": [{"year": 2009, "month": 3, "date": 4}, {"year": 2011, "month": 4, "date": 26}]}},
          "y": {"field": "value", "type": "quantitative", "scale": {"domain": [27.96, 103.5], "nice": false, "zero": false}},
          "color": {"field": "series", "type": "nominal", "scale": {"domain": ["Control", "Biogas residue", "CAN"], "range": ["#000000", "#8a8a8a", "#8a8a8a"]}, "legend": null},
          "size": {"field": "series", "type": "nominal", "scale": {"domain": ["Control", "CAN", "Biogas residue"], "range": [20, 85]}, "legend": null},
          "shape": {"field": "series", "type": "nominal", "scale": {"domain": ["Control", "Biogas residue", "CAN"], "range": ["circle", "triangle-up", "square"]}, "legend": null}
        }
      }
    ]
  }
]
}
